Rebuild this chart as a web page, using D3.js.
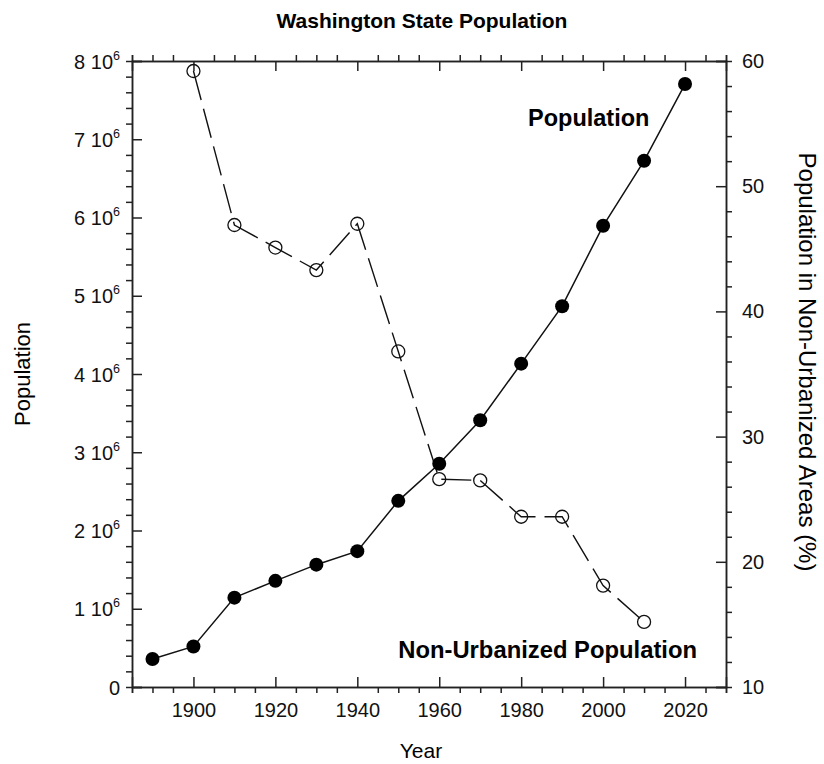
<!DOCTYPE html>
<html>
<head>
<meta charset="utf-8">
<script src="https://cdn.jsdelivr.net/npm/d3@7"></script>
<style>
  body { margin: 0; background: #fff; }
  svg { font-family: "Liberation Sans", Arial, sans-serif; }
  .domain { stroke: #222; stroke-width: 1.5; }
  .tick line { stroke: #222; stroke-width: 1.5; }
</style>
</head>
<body>
<svg id="chart"></svg>
<script>
const years = [1890, 1900, 1910, 1920, 1930, 1940, 1950, 1960, 1970, 1980, 1990, 2000, 2010, 2020];
const population = [357232, 518103, 1141990, 1356621, 1563396, 1736191, 2378963, 2853214, 3409169, 4132156, 4866692, 5894121, 6724540, 7705281];

const ruralYears = [1900, 1910, 1920, 1930, 1940, 1950, 1960, 1970, 1980, 1990, 2000, 2010];
const ruralPct = [59.2, 46.9, 45.1, 43.3, 47.0, 36.8, 26.6, 26.5, 23.6, 23.6, 18.1, 15.2];

const xTicks = [1900, 1920, 1940, 1960, 1980, 2000, 2020];
const yLeftTicks = [0, 1e6, 2e6, 3e6, 4e6, 5e6, 6e6, 7e6, 8e6];
const yRightTicks = [10, 20, 30, 40, 50, 60];

const W = 824, H = 764;
const m = {left: 132, right: 98, top: 61, bottom: 77};

const svg = d3.select('#chart').attr('width', W).attr('height', H);

const x = d3.scaleLinear().domain([1885, 2030]).range([m.left, W - m.right]);
const yL = d3.scaleLinear().domain([0, 8e6]).range([H - m.bottom, m.top]);
const yR = d3.scaleLinear().domain([10, 60]).range([H - m.bottom, m.top]);

const xMinor = d3.range(1885, 2031, 5).filter(v => v % 20 !== 0);
const yLMinor = d3.range(0, 8e6 + 1, 2e5).filter(v => v % 1e6 !== 0);
const yRMinor = d3.range(10, 61, 2).filter(v => v % 10 !== 0);

const bottom = H - m.bottom, right = W - m.right;

// minor ticks point outward, major ticks inward
function addAxis(axis, transform) {
    const g = svg.append('g').attr('transform', transform).call(axis)
        .attr('font-family', null);
    g.selectAll('text').attr('fill', '#111').style('font-size', '20px');
    return g;
}

addAxis(d3.axisBottom(x).tickValues(xMinor).tickSize(6).tickFormat(''), `translate(0,${bottom})`);
addAxis(d3.axisBottom(x).tickValues(xTicks).tickSize(-10).tickPadding(16).tickFormat(d3.format('d')), `translate(0,${bottom})`);
addAxis(d3.axisTop(x).tickValues(xMinor).tickSize(6).tickFormat(''), `translate(0,${m.top})`);
addAxis(d3.axisTop(x).tickValues(xTicks).tickSize(-10).tickFormat(''), `translate(0,${m.top})`);

addAxis(d3.axisLeft(yL).tickValues(yLMinor).tickSize(6).tickFormat(''), `translate(${m.left},0)`);
const leftG = addAxis(d3.axisLeft(yL).tickValues(yLeftTicks).tickSize(-10).tickPadding(12).tickFormat(''), `translate(${m.left},0)`);
leftG.selectAll('.tick text').each(function (d) {
    const t = d3.select(this).attr('dy', '0.35em');
    if (d === 0) { t.text('0'); return; }
    t.text(`${d / 1e6} 10`);
    t.append('tspan').attr('dy', '-9').style('font-size', '12.5px').text('6');
});

addAxis(d3.axisRight(yR).tickValues(yRMinor).tickSize(6).tickFormat(''), `translate(${right},0)`);
addAxis(d3.axisRight(yR).tickValues(yRightTicks).tickSize(-10).tickPadding(16).tickFormat(d3.format('d')), `translate(${right},0)`);

// non-urbanized population (dashed, open circles)
svg.append('path')
    .datum(ruralYears.map((yr, i) => [yr, ruralPct[i]]))
    .attr('fill', 'none')
    .attr('stroke', '#111')
    .attr('stroke-width', 1.4)
    .attr('stroke-dasharray', '30,9')
    .attr('d', d3.line().x(d => x(d[0])).y(d => yR(d[1])));

svg.selectAll('circle.rural')
    .data(ruralYears.map((yr, i) => [yr, ruralPct[i]]))
    .join('circle')
    .classed('rural', true)
    .attr('cx', d => x(d[0]))
    .attr('cy', d => yR(d[1]))
    .attr('r', 6.5)
    .attr('fill', 'none')
    .attr('stroke', '#111')
    .attr('stroke-width', 1.3);

// total population (solid, filled circles)
svg.append('path')
    .datum(years.map((yr, i) => [yr, population[i]]))
    .attr('fill', 'none')
    .attr('stroke', '#111')
    .attr('stroke-width', 1.5)
    .attr('d', d3.line().x(d => x(d[0])).y(d => yL(d[1])));

svg.selectAll('circle.pop')
    .data(years.map((yr, i) => [yr, population[i]]))
    .join('circle')
    .classed('pop', true)
    .attr('cx', d => x(d[0]))
    .attr('cy', d => yL(d[1]))
    .attr('r', 7)
    .attr('fill', '#000');

// labels
svg.append('text')
    .attr('x', 422).attr('y', 28)
    .attr('text-anchor', 'middle')
    .style('font-size', '21px').style('font-weight', 'bold')
    .text('Washington State Population');

svg.append('text')
    .attr('x', 528).attr('y', 126)
    .style('font-size', '23.5px').style('font-weight', 'bold')
    .text('Population');

svg.append('text')
    .attr('x', 697).attr('y', 658)
    .attr('text-anchor', 'end')
    .style('font-size', '23.8px').style('font-weight', 'bold')
    .text('Non-Urbanized Population');

svg.append('text')
    .attr('x', 421).attr('y', 758)
    .attr('text-anchor', 'middle')
    .style('font-size', '21px')
    .text('Year');

svg.append('text')
    .attr('transform', 'translate(30,374) rotate(-90)')
    .attr('text-anchor', 'middle')
    .style('font-size', '22px')
    .text('Population');

svg.append('text')
    .attr('transform', 'translate(799,362) rotate(90)')
    .attr('text-anchor', 'middle')
    .style('font-size', '24px')
    .text('Population in Non-Urbanized Areas (%)');
</script>
</body>
</html>
